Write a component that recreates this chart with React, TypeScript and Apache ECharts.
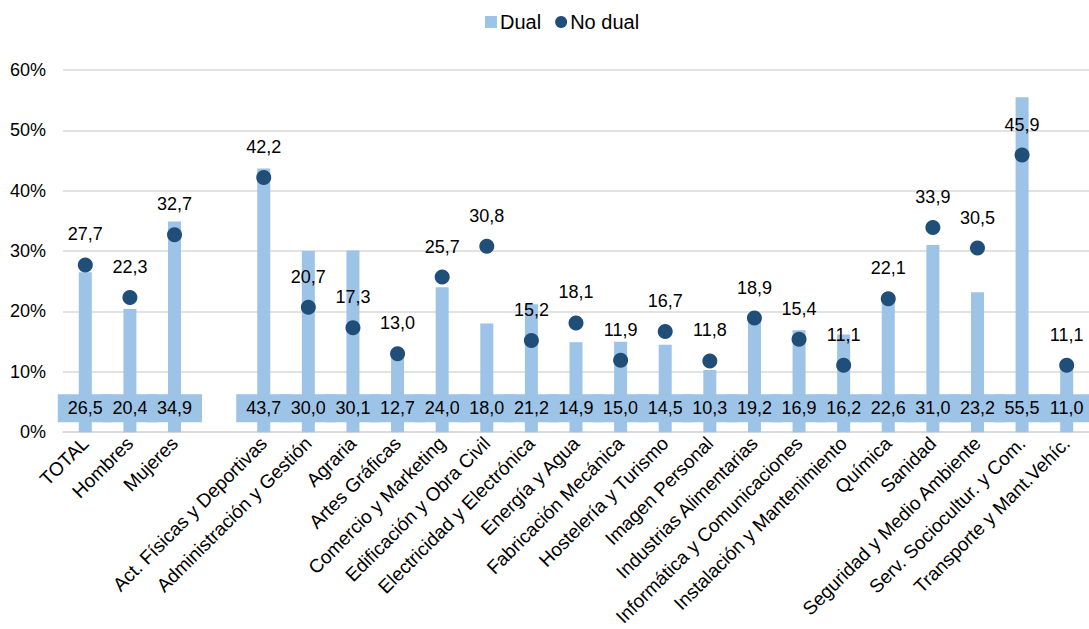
import React, { useEffect, useRef } from "react";
import * as echarts from "echarts";

const categories: string[] = [
  "TOTAL", "Hombres", "Mujeres", "",
  "Act. Físicas y Deportivas", "Administración y Gestión", "Agraria", "Artes Gráficas",
  "Comercio y Marketing", "Edificación y Obra Civil", "Electricidad y Electrónica",
  "Energía y Agua", "Fabricación Mecánica", "Hostelería y Turismo", "Imagen Personal",
  "Industrias Alimentarias", "Informática y Comunicaciones", "Instalación y Mantenimiento",
  "Química", "Sanidad", "Seguridad y Medio Ambiente", "Serv. Sociocultur. y Com.",
  "Transporte y Mant.Vehíc.",
];

const dual: (number | null)[] = [
  26.5, 20.4, 34.9, null, 43.7, 30.0, 30.1, 12.7, 24.0, 18.0, 21.2, 14.9,
  15.0, 14.5, 10.3, 19.2, 16.9, 16.2, 22.6, 31.0, 23.2, 55.5, 11.0,
];

const noDual: (number | null)[] = [
  27.7, 22.3, 32.7, null, 42.2, 20.7, 17.3, 13.0, 25.7, 30.8, 15.2, 18.1,
  11.9, 16.7, 11.8, 18.9, 15.4, 11.1, 22.1, 33.9, 30.5, 45.9, 11.1,
];

const yTicks = { min: 0, max: 60, interval: 10 };

const FONT = "'Liberation Sans', Arial, sans-serif";
const fmt = (v: number) => v.toFixed(1).replace(".", ",");

export default function App() {
  const ref = useRef<HTMLDivElement>(null);
  useEffect(() => {
    if (!ref.current) return;
    const chart = echarts.init(ref.current, undefined, { renderer: "svg" });
    chart.setOption({
      animation: false,
      textStyle: { fontFamily: FONT },
      legend: {
        top: 7,
        left: 480,
        itemGap: 14,
        itemWidth: 12,
        itemHeight: 12,
        textStyle: { fontSize: 20, color: "#000", fontFamily: FONT, padding: [0, 0, 0, -2] },
        data: [
          { name: "Dual", icon: "rect", itemStyle: { color: "#9DC3E6" } },
          { name: "No dual", icon: "circle", itemStyle: { color: "#1F4E79", opacity: 1 } },
        ],
      },
      grid: { left: 63, top: 70, width: 1035, height: 363, containLabel: false },
      xAxis: {
        type: "category",
        data: categories,
        axisTick: { show: false },
        axisLine: { show: true, lineStyle: { color: "#D9D9D9", width: 1.5 } },
        axisLabel: {
          interval: 0,
          rotate: 45,
          fontSize: 19,
          color: "#000",
          fontFamily: FONT,
          margin: 8,
        },
      },
      yAxis: {
        type: "value",
        min: yTicks.min,
        max: yTicks.max,
        interval: yTicks.interval,
        axisLine: { show: false },
        axisTick: { show: false },
        splitLine: { lineStyle: { color: "#D9D9D9", width: 1.5 } },
        axisLabel: {
          formatter: (v: number) => `${v}%`,
          fontSize: 18,
          color: "#000",
          fontFamily: FONT,
          margin: 17,
        },
      },
      series: [
        {
          name: "Dual",
          type: "bar",
          data: dual,
          barWidth: 13,
          itemStyle: { color: "#9DC3E6" },
          label: {
            show: true,
            position: "insideBottom",
            distance: 10,
            formatter: (p: any) => fmt(p.value),
            fontSize: 18,
            color: "#000",
            fontFamily: FONT,
            backgroundColor: "#9DC3E6",
            padding: [5, 10, 5, 10],
            lineHeight: 18,
          },
          z: 2,
        },
        {
          name: "No dual",
          type: "scatter",
          data: noDual,
          symbol: "circle",
          symbolSize: 15,
          itemStyle: { color: "#1F4E79", opacity: 1 },
          label: {
            show: true,
            position: "top",
            distance: 14,
            formatter: (p: any) => fmt(p.value),
            fontSize: 18,
            color: "#000",
            fontFamily: FONT,
          },
          z: 3,
        },
      ],
    });
    return () => chart.dispose();
  }, []);
  return (
    <div
      ref={ref}
      style={{ position: "fixed", left: 0, top: 0, width: 1089, height: 629, background: "#fff" }}
    />
  );
}
